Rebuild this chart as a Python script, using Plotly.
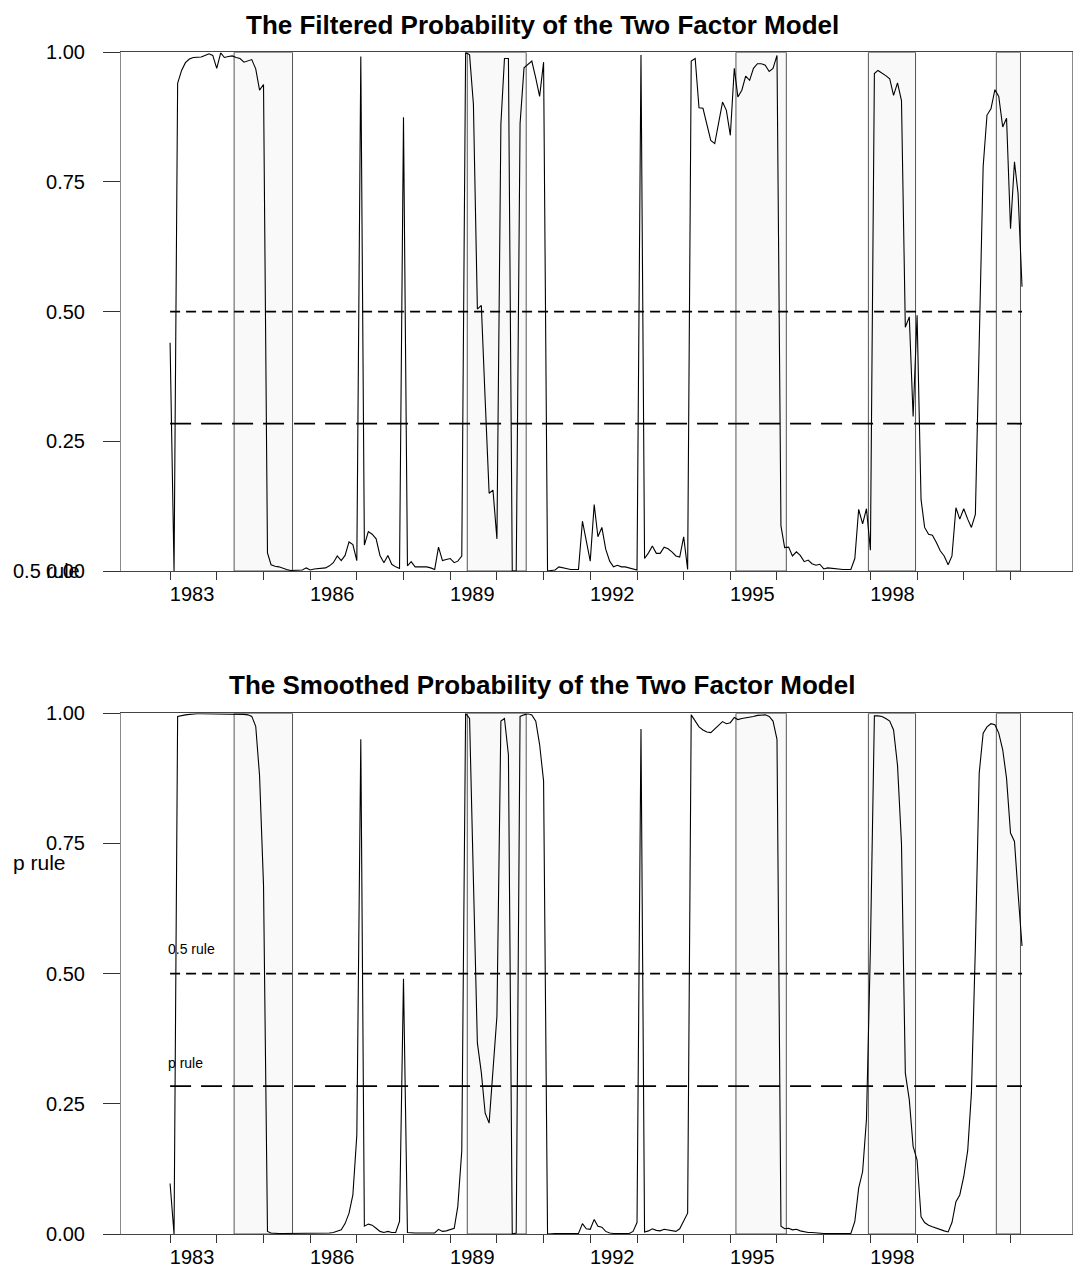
import pandas as pd
import plotly.graph_objects as go

# ---------------- data ----------------
months = pd.date_range("1983-01-01", periods=220, freq="MS")

filtered_prob = [
    0.44, 0.0, 0.94, 0.965, 0.98, 0.987, 0.99, 0.99, 0.991, 0.994, 0.997, 0.994,
    0.969, 0.999, 0.99, 0.992, 0.993, 0.99, 0.988, 0.981, 0.983, 0.986, 0.968, 0.927,
    0.938, 0.035, 0.012, 0.009, 0.008, 0.005, 0.003, 0.001, 0.001, 0.001, 0.002, 0.006,
    0.002, 0.004, 0.005, 0.005, 0.006, 0.01, 0.016, 0.029, 0.02, 0.03, 0.056, 0.051,
    0.02, 0.992, 0.05, 0.076, 0.071, 0.062, 0.03, 0.016, 0.03, 0.013, 0.008, 0.005,
    0.875, 0.01, 0.018, 0.008, 0.008, 0.008, 0.008, 0.006, 0.003, 0.046, 0.02, 0.022,
    0.024, 0.016, 0.019, 0.029, 1.0, 0.995, 0.90, 0.505, 0.512, 0.33, 0.15, 0.156,
    0.062, 0.862, 0.988, 0.988, 0.0, 0.0, 0.862, 0.97, 0.977, 0.983, 0.95, 0.915,
    0.981, 0.0, 0.001, 0.002, 0.008, 0.006, 0.004, 0.003, 0.003, 0.003, 0.096, 0.058,
    0.019, 0.128, 0.066, 0.084, 0.042, 0.019, 0.008, 0.011, 0.008, 0.008, 0.006, 0.004,
    0.002, 0.995, 0.024, 0.035, 0.048, 0.034, 0.034, 0.046, 0.043, 0.037, 0.029, 0.027,
    0.066, 0.003, 0.983, 0.988, 0.893, 0.892, 0.862, 0.83, 0.824, 0.862, 0.904, 0.888,
    0.84, 0.969, 0.914, 0.927, 0.954, 0.946, 0.969, 0.978, 0.978, 0.975, 0.963, 0.969,
    0.994, 0.087, 0.045, 0.046, 0.029, 0.037, 0.03, 0.018, 0.021, 0.014, 0.011, 0.013,
    0.004, 0.006, 0.005, 0.005, 0.004, 0.003, 0.003, 0.003, 0.024, 0.119, 0.091, 0.12,
    0.04, 0.959, 0.965, 0.959, 0.955, 0.949, 0.917, 0.941, 0.907, 0.47, 0.49, 0.298,
    0.493, 0.138, 0.084, 0.071, 0.069, 0.055, 0.039, 0.029, 0.012, 0.029, 0.122, 0.1,
    0.12, 0.1, 0.084, 0.109, 0.45, 0.78, 0.879, 0.891, 0.928, 0.915, 0.856, 0.873,
    0.66, 0.789, 0.728, 0.548,
]

smoothed_prob = [
    0.097, 0.0, 0.994, 0.996, 0.997, 0.998, 0.999, 0.999, 0.999, 0.999, 0.999, 0.999,
    0.998, 0.999, 0.999, 0.999, 0.999, 0.999, 0.999, 0.998, 0.997, 0.994, 0.975, 0.88,
    0.67, 0.005, 0.002, 0.001, 0.001, 0.001, 0.001, 0.001, 0.001, 0.001, 0.001, 0.002,
    0.001, 0.001, 0.001, 0.001, 0.001, 0.002, 0.003, 0.005, 0.008, 0.02, 0.04, 0.075,
    0.19, 0.95, 0.015, 0.019, 0.017, 0.011, 0.005, 0.003, 0.005, 0.003, 0.003, 0.024,
    0.49, 0.003, 0.002, 0.002, 0.002, 0.002, 0.002, 0.002, 0.002, 0.009, 0.005, 0.006,
    0.008, 0.011, 0.053, 0.16, 1.0, 0.99, 0.68, 0.367, 0.31, 0.232, 0.213, 0.31,
    0.418, 0.985, 0.99, 0.92, 0.0, 0.002, 0.994, 0.997, 0.999, 0.997, 0.985, 0.94,
    0.87, 0.0, 0.001, 0.001, 0.001, 0.001, 0.001, 0.001, 0.001, 0.001, 0.02, 0.01,
    0.009, 0.028, 0.015, 0.013, 0.005, 0.002, 0.001, 0.001, 0.001, 0.001, 0.001, 0.005,
    0.022, 0.97, 0.004, 0.006, 0.01, 0.007, 0.006, 0.009, 0.008, 0.007, 0.005, 0.01,
    0.025, 0.04, 0.997, 0.985, 0.974, 0.968, 0.964, 0.963, 0.97, 0.977, 0.984, 0.98,
    0.982, 0.992, 0.988, 0.99, 0.991, 0.992, 0.994, 0.996, 0.997, 0.997, 0.994, 0.985,
    0.95, 0.015, 0.01, 0.011, 0.008, 0.009, 0.006, 0.004, 0.003, 0.003, 0.002, 0.001,
    0.001, 0.001, 0.001, 0.001, 0.001, 0.001, 0.001, 0.001, 0.024, 0.088, 0.12, 0.22,
    0.55, 0.995, 0.995, 0.994, 0.99, 0.985, 0.968, 0.9, 0.75, 0.309, 0.258, 0.168,
    0.142, 0.033, 0.022, 0.017, 0.014, 0.011, 0.008, 0.006, 0.004, 0.022, 0.062, 0.075,
    0.11, 0.16, 0.27, 0.55, 0.885, 0.962, 0.974, 0.98, 0.978, 0.962, 0.93, 0.875,
    0.77, 0.754, 0.655, 0.553,
]

shade_starts = ["1984-05-16", "1989-05-14", "1995-02-14", "1997-12-16", "2000-09-12"]
shade_ends = ["1985-08-16", "1990-08-18", "1996-03-14", "1998-12-20", "2001-03-20"]

half_rule = 0.5
p_rule = 0.284

tick_years = list(range(1983, 2002))
label_years = [1983, 1986, 1989, 1992, 1995, 1998]
y_ticks = [0.0, 0.25, 0.5, 0.75, 1.0]
y_tick_text = ["0.00", "0.25", "0.50", "0.75", "1.00"]

titles = ["The Filtered Probability of the Two Factor Model",
          "The Smoothed Probability of the Two Factor Model"]

# ---------------- layout helpers ----------------
W, H = 1078, 1281
FONT = "Liberation Sans Narrow, Arial Narrow, Liberation Sans, Arial, sans-serif"
x_dom = [121 / W, 1072 / W]
y_dom_top = [1 - 571 / H, 1 - 52.3 / H]
y_dom_bot = [1 - 1234 / H, 1 - 713.3 / H]
x_range = ["1981-12-13", "2002-04-27"]

fig = go.Figure()

panels = [("x", "y", filtered_prob), ("x2", "y2", smoothed_prob)]
for xa, ya, series in panels:
    fig.add_trace(go.Scatter(x=[months[0], months[-1]], y=[half_rule, half_rule],
                             xaxis=xa, yaxis=ya, mode="lines",
                             line=dict(color="black", width=1.8, dash="10px,6px"),
                             hoverinfo="skip", showlegend=False))
    fig.add_trace(go.Scatter(x=[months[0], months[-1]], y=[p_rule, p_rule],
                             xaxis=xa, yaxis=ya, mode="lines",
                             line=dict(color="black", width=1.8, dash="21px,10px"),
                             hoverinfo="skip", showlegend=False))
    fig.add_trace(go.Scatter(x=months, y=series, xaxis=xa, yaxis=ya, mode="lines",
                             line=dict(color="black", width=1.1),
                             showlegend=False))
    for s, e in zip(shade_starts, shade_ends):
        fig.add_shape(type="rect", xref=xa, yref=ya, x0=s, x1=e, y0=0, y1=1,
                      fillcolor="#f9f9f9", line=dict(color="#555555", width=1),
                      layer="below")

xaxis_common = dict(
    type="date", range=x_range, domain=x_dom, automargin=False,
    tickmode="array", tickvals=[f"{y}-01-01" for y in tick_years],
    ticktext=[str(y) if y in label_years else "" for y in tick_years],
    ticks="outside", ticklen=8, tickwidth=1, tickcolor="#333",
    ticklabelshift=22, ticklabelstandoff=-3,
    showline=True, linecolor="#444", linewidth=1, mirror=True,
    showgrid=False, zeroline=False,
    tickfont=dict(family=FONT, size=20, color="black"),
)
yaxis_common = dict(
    range=[0, 1], tickmode="array", tickvals=y_ticks, ticktext=y_tick_text,
    automargin=False,
    ticks="outside", ticklen=17, tickwidth=1, tickcolor="#333",
    ticklabelstandoff=14,
    showline=True, linecolor="#8a8a8a", linewidth=1, mirror=True,
    showgrid=False, zeroline=False,
    tickfont=dict(family=FONT, size=20, color="black"),
)

fig.update_layout(
    width=W, height=H, autosize=False,
    margin=dict(l=0, r=0, t=0, b=0, pad=0),
    paper_bgcolor="white", plot_bgcolor="white",
    showlegend=False,
    xaxis=dict(xaxis_common, anchor="y"),
    yaxis=dict(yaxis_common, anchor="x", domain=y_dom_top),
    xaxis2=dict(xaxis_common, anchor="y2"),
    yaxis2=dict(yaxis_common, anchor="x2", domain=y_dom_bot),
)

annots = [
    dict(text=titles[0], x=542 / W, y=1 - 25 / H, xref="paper", yref="paper",
         xanchor="center", yanchor="middle", showarrow=False,
         font=dict(family=FONT, size=26, color="black", weight="bold")),
    dict(text=titles[1], x=542 / W, y=1 - 685 / H, xref="paper", yref="paper",
         xanchor="center", yanchor="middle", showarrow=False,
         font=dict(family=FONT, size=26, color="black", weight="bold")),
    dict(text="0.5 rule", x=11 / W, y=1 - 571 / H, xref="paper", yref="paper",
         xanchor="left", yanchor="middle", showarrow=False,
         font=dict(family=FONT, size=20, color="black")),
    dict(text="p rule", x=11 / W, y=1 - 862 / H, xref="paper", yref="paper",
         xanchor="left", yanchor="middle", showarrow=False,
         font=dict(family=FONT, size=21, color="black")),
    dict(text="0.5 rule", x=months[0], y=0.547, xref="x2", yref="y2",
         xanchor="left", yanchor="middle", xshift=-4, showarrow=False,
         font=dict(family=FONT, size=14, color="black")),
    dict(text="p rule", x=months[0], y=0.329, xref="x2", yref="y2",
         xanchor="left", yanchor="middle", xshift=-4, showarrow=False,
         font=dict(family=FONT, size=14, color="black")),
]
fig.update_layout(annotations=annots)

fig.write_html("out.html", config={"displayModeBar": False},
               post_script="document.body.style.margin='0';")
